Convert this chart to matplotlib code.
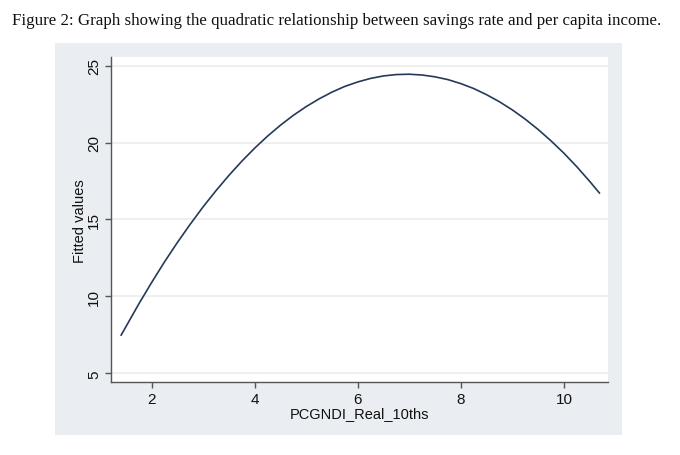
import matplotlib
matplotlib.use("Agg")
import matplotlib.pyplot as plt
from matplotlib.patches import Rectangle

# Fitted values
income_x = [1.4, 1.75, 2.0, 2.25, 2.5, 2.75, 3.0, 3.25, 3.5, 3.75, 4.0, 4.25,
            4.5, 4.75, 5.0, 5.25, 5.5, 5.75, 6.0, 6.25, 6.5, 6.75, 7.0, 7.25,
            7.5, 7.75, 8.0, 8.25, 8.5, 8.75, 9.0, 9.25, 9.5, 9.75, 10.0, 10.25,
            10.5, 10.7]
fitted_y = [7.44, 9.51, 10.91, 12.25, 13.51, 14.70, 15.83, 16.88, 17.87, 18.79,
            19.64, 20.42, 21.13, 21.77, 22.34, 22.84, 23.28, 23.65, 23.94, 24.17,
            24.33, 24.42, 24.44, 24.39, 24.27, 24.09, 23.83, 23.51, 23.11, 22.65,
            22.12, 21.52, 20.85, 20.11, 19.31, 18.43, 17.48, 16.68]
x_ticks = [2, 4, 6, 8, 10]
y_ticks = [5, 10, 15, 20, 25]
title = "Figure 2: Graph showing the quadratic relationship between savings rate and per capita income."
x_label = "PCGNDI_Real_10ths"
y_label = "Fitted values"

W, H = 680, 456
fig = plt.figure(figsize=(W / 100, H / 100), dpi=100)
fig.patch.set_facecolor("white")

# Stata-like outer panel
panel = Rectangle((55 / W, 1 - 436 / H), (622 - 55) / W, (436 - 44) / H,
                  transform=fig.transFigure, facecolor="#EAEDF1", edgecolor="none", zorder=-5)
fig.patches.append(panel)

fig.text(12 / W, 1 - 25 / H, title, family=["Liberation Serif", "DejaVu Serif"],
         fontsize=12.2, color="#111111", ha="left", va="baseline")

ax = fig.add_axes([110.7 / W, 1 - 383.3 / H, (607.7 - 110.7) / W, (383.3 - 58) / H])
ax.set_facecolor("white")
ax.plot(income_x, fitted_y, color="#26395A", linewidth=1.2, solid_joinstyle="round",
        solid_capstyle="butt", zorder=3)

ax.set_xlim(1.205, 10.85)
ax.set_ylim(4.42, 25.56)
ax.set_xticks(x_ticks)
ax.set_yticks(y_ticks)
ax.grid(axis="y", color="#EEEEEE", linewidth=1.3)
ax.grid(axis="x", visible=False)
ax.set_axisbelow(True)

for s in ["top", "right"]:
    ax.spines[s].set_visible(False)
for s in ["left", "bottom"]:
    ax.spines[s].set_color("#555555")
    ax.spines[s].set_linewidth(1.0)

ax.tick_params(axis="both", direction="out", length=4, width=1.0, color="#555555",
               labelsize=11, labelcolor="#111111", pad=3)
for lab in ax.get_yticklabels():
    lab.set_rotation(90)
    lab.set_va("center")
for lab in ax.get_xticklabels():
    lab.set_family("Liberation Sans")
for lab in ax.get_yticklabels():
    lab.set_family("Liberation Sans")

ax.set_xlabel(x_label, family="Liberation Sans", fontsize=10.5, color="#111111", labelpad=0)
ax.set_ylabel(y_label, family="Liberation Sans", fontsize=10.5, color="#111111", labelpad=0)

fig.savefig("out.png", dpi=100, facecolor="white")
